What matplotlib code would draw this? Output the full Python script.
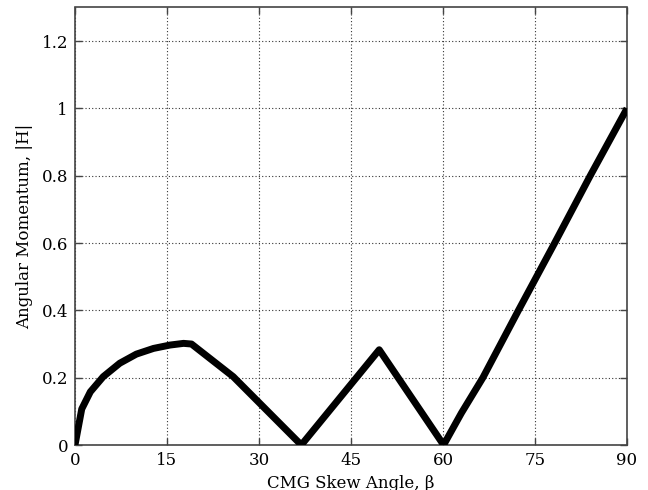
import matplotlib
matplotlib.use("Agg")
import matplotlib.pyplot as plt

beta = [0, 1.1, 2.5, 4.6, 7.3, 10.0, 12.8, 15.5, 17.7, 19.0, 25.8, 36.9, 49.6, 60.1, 63.0, 66.5, 72.3, 78.2, 84.0, 90.0]
H = [0, 0.107, 0.158, 0.203, 0.243, 0.270, 0.287, 0.297, 0.302, 0.300, 0.203, 0.0, 0.283, 0.0, 0.095, 0.200, 0.400, 0.600, 0.800, 1.0]

xticks = [0, 15, 30, 45, 60, 75, 90]
yticks = [0, 0.2, 0.4, 0.6, 0.8, 1.0, 1.2]
yticklabels = ["0", "0.2", "0.4", "0.6", "0.8", "1", "1.2"]

plt.rcParams['font.family'] = ['DejaVu Serif']

fig = plt.figure(figsize=(6.48, 4.90), dpi=100)
ax = fig.add_axes([75/648, 45/490, 552/648, 437.5/490])

ax.plot(beta, H, color='black', linewidth=5.0, solid_joinstyle='round', solid_capstyle='butt', zorder=3)

ax.set_xlim(0, 90)
ax.set_ylim(0, 1.3)
ax.set_xticks(xticks)
ax.set_xticklabels([str(t) for t in xticks])
ax.set_yticks(yticks)
ax.set_yticklabels(yticklabels)
ax.grid(True, linestyle=(0, (1, 2)), color='#333333', linewidth=0.8)
ax.tick_params(direction='in', top=True, right=True, length=5, width=1, color='#444444', labelsize=12, pad=5)
for s in ax.spines.values():
    s.set_color('#444444')
    s.set_linewidth(1.2)

ax.set_xlabel('CMG Skew Angle, β', fontsize=12, labelpad=4)
ax.set_ylabel('Angular Momentum, |H|', fontsize=12, labelpad=6)

fig.savefig('out.png', dpi=100)
